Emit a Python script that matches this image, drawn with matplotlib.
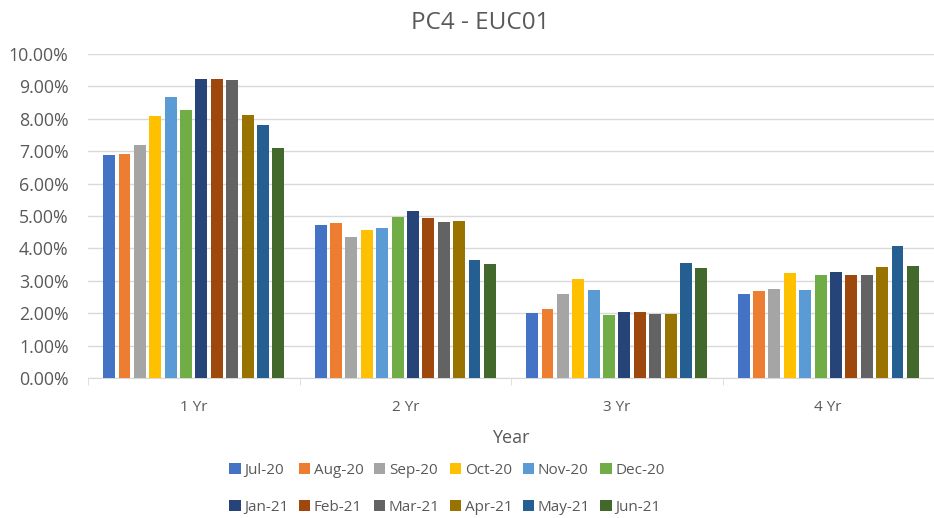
import numpy as np
import matplotlib
matplotlib.use("Agg")
import matplotlib.pyplot as plt
from matplotlib.patches import Patch
from matplotlib.ticker import PercentFormatter

plt.rcParams['font.family'] = ['Open Sans', 'DejaVu Sans']

categories = ["1 Yr", "2 Yr", "3 Yr", "4 Yr"]
months = ["Jul-20", "Aug-20", "Sep-20", "Oct-20", "Nov-20", "Dec-20",
          "Jan-21", "Feb-21", "Mar-21", "Apr-21", "May-21", "Jun-21"]
colors = ["#4472C4", "#ED7D31", "#A5A5A5", "#FFC000", "#5B9BD5", "#70AD47",
          "#264478", "#9E480E", "#636363", "#997300", "#255E91", "#43682B"]

# values in percent, one list per month across 1-4 Yr
jul_20 = [6.87, 4.73, 2.01, 2.60]
aug_20 = [6.90, 4.77, 2.13, 2.68]
sep_20 = [7.19, 4.34, 2.60, 2.76]
oct_20 = [8.08, 4.56, 3.05, 3.23]
nov_20 = [8.66, 4.64, 2.72, 2.72]
dec_20 = [8.28, 4.97, 1.95, 3.18]
jan_21 = [9.24, 5.15, 2.05, 3.27]
feb_21 = [9.24, 4.94, 2.05, 3.19]
mar_21 = [9.20, 4.81, 1.97, 3.19]
apr_21 = [8.11, 4.85, 1.97, 3.43]
may_21 = [7.82, 3.64, 3.56, 4.06]
jun_21 = [7.10, 3.52, 3.39, 3.47]
series = [jul_20, aug_20, sep_20, oct_20, nov_20, dec_20,
          jan_21, feb_21, mar_21, apr_21, may_21, jun_21]

text_col = "#595959"
fig = plt.figure(figsize=(9.34, 5.18), dpi=100)
ax = fig.add_axes([88/934, 140/518, 846/934, 324/518])

x = np.arange(len(categories))
step = 15.5 / 213
width = 12 / 213
n = len(series)
for i, (vals, c) in enumerate(zip(series, colors)):
    offs = (i - (n - 1) / 2) * step
    ax.bar(x + offs, vals, width=width, color=c, zorder=3)

ax.set_xlim(-0.5, len(categories) - 0.5)
ax.set_ylim(0, 10)
ax.set_yticks(np.arange(0, 10.01, 1))
ax.yaxis.set_major_formatter(PercentFormatter(decimals=2))
ax.grid(axis='y', color="#D9D9D9", linewidth=1, zorder=0)
for s in ["top", "right", "left"]:
    ax.spines[s].set_visible(False)
ax.spines["bottom"].set_color("#D9D9D9")
ax.tick_params(axis='y', length=0, labelsize=12.8, labelcolor=text_col, pad=14)
ax.set_xticks(x)
ax.set_xticklabels(categories)
ax.tick_params(axis='x', which='major', length=0, labelsize=11, labelcolor=text_col, pad=16)
ax.set_xticks(np.arange(-0.5, len(categories)), minor=True)
ax.tick_params(axis='x', which='minor', length=5, color="#D9D9D9")

ax.set_xlabel("Year", fontsize=13, color=text_col, labelpad=10)
fig.text(480/934, 1 - 23/518, "PC4 - EUC01", ha='center', va='center', fontsize=17.5, color=text_col)

# legend filled row by row (matplotlib fills columns first)
ncol = 6
order = [r * ncol + c for c in range(ncol) for r in range(2)]
handles = [Patch(facecolor=colors[k], label=months[k]) for k in order]
leg = fig.legend(handles=handles, ncol=ncol, loc='center', bbox_to_anchor=(447/934, 1 - 489/518),
                 frameon=False, fontsize=11, handlelength=0.75, handleheight=0.75,
                 handletextpad=0.25, columnspacing=0.65, labelspacing=1.45)
for t in leg.get_texts():
    t.set_color(text_col)

fig.savefig("out.png", dpi=100)
